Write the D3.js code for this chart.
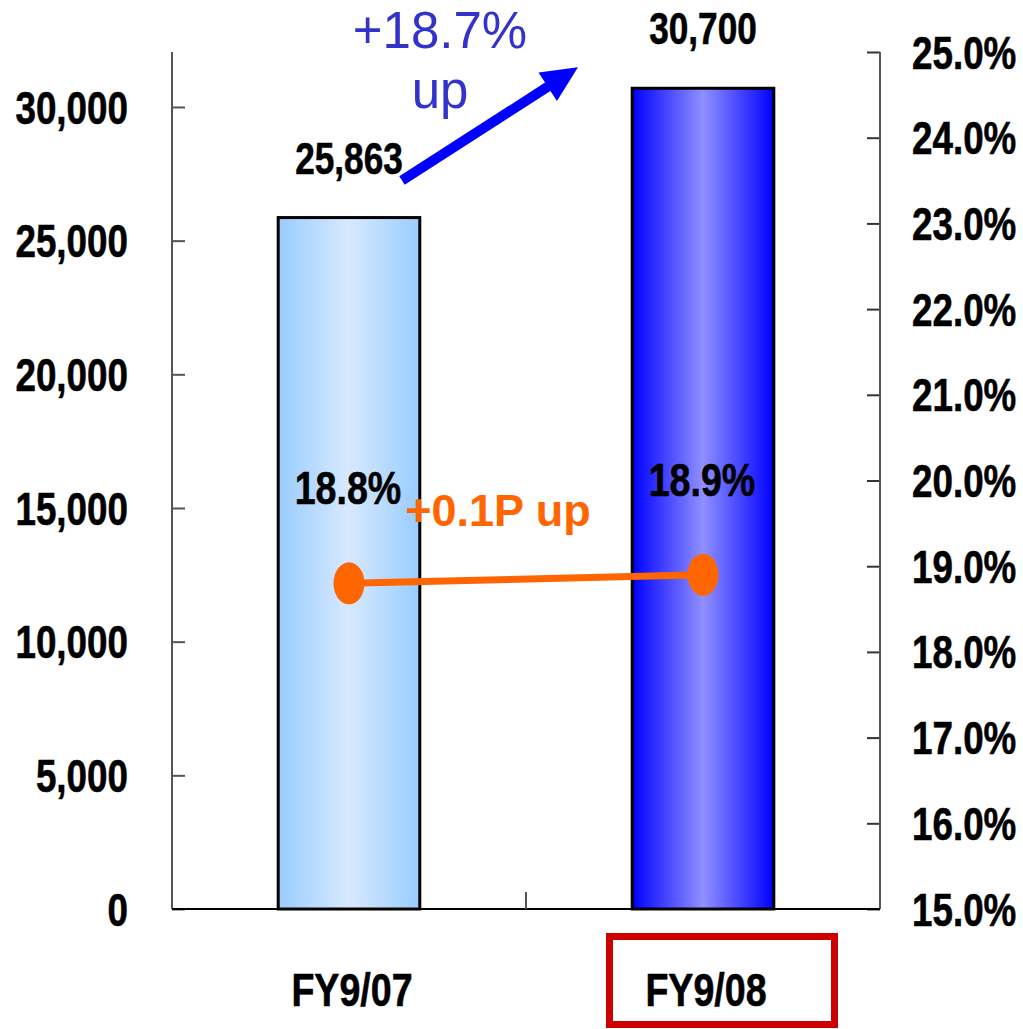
<!DOCTYPE html>
<html>
<head>
<meta charset="utf-8">
<script src="https://cdn.jsdelivr.net/npm/d3@7"></script>
<style>
  html, body { margin: 0; padding: 0; background: #fff; }
  svg { display: block; }
  .narrow { font-family: "Liberation Sans", Arial, sans-serif; font-weight: bold; stroke: #000; stroke-width: 0.6px; }
</style>
</head>
<body>
<svg id="chart" width="1023" height="1029"></svg>
<script>
// Fiscal years, sales amounts and margin rates
const categories = ["FY9/07", "FY9/08"];
const salesValues = [25863, 30700];
const marginRates = [18.8, 18.9];
const salesTicks = [0, 5000, 10000, 15000, 20000, 25000, 30000];
const rateTicks = [15, 16, 17, 18, 19, 20, 21, 22, 23, 24, 25];
const salesGrowthLabel = ["+18.7%", "up"];
const rateGrowthLabel = "+0.1P up";

(function draw() {
const svg = d3.select("#chart");
const plotL = 172, plotR = 880, plotT = 52, plotB = 909;

const x = d3.scaleBand().domain(categories).range([plotL, plotR]).padding(0);
const yL = d3.scaleLinear().domain([0, 32000]).range([plotB, 53.5]);
const yR = d3.scaleLinear().domain([15, 25]).range([plotB, plotT]);
const cx = i => x(categories[i]) + x.bandwidth() / 2;
const barW = x.bandwidth() * 0.4;

// Bar gradients: darker edges, lighter middle
const defs = svg.append("defs");
function grad(id, edge, mid) {
  const g = defs.append("linearGradient").attr("id", id)
    .attr("x1", "0%").attr("x2", "100%").attr("y1", "0%").attr("y2", "0%");
  g.append("stop").attr("offset", "0%").attr("stop-color", edge);
  g.append("stop").attr("offset", "50%").attr("stop-color", mid);
  g.append("stop").attr("offset", "100%").attr("stop-color", edge);
}
grad("g0", "#99CCFF", "#D8E9FF");
grad("g1", "#0000FF", "#9090FF");

// Bars
svg.selectAll("rect.bar").data(salesValues).join("rect")
  .attr("class", "bar")
  .attr("x", (d, i) => cx(i) - barW / 2)
  .attr("width", barW)
  .attr("y", d => yL(d))
  .attr("height", d => plotB - yL(d))
  .attr("fill", (d, i) => `url(#g${i})`)
  .attr("stroke", "#000")
  .attr("stroke-width", 3);

// Left axis
const axL = svg.append("g").attr("transform", `translate(${plotL},0)`)
  .call(d3.axisRight(yL).tickValues(salesTicks).tickSize(13).tickFormat(""));
axL.select(".domain").remove();
axL.selectAll(".tick line").attr("stroke", "#555").attr("stroke-width", 2);
svg.append("line").attr("x1", plotL).attr("x2", plotL).attr("y1", plotT).attr("y2", plotB)
  .attr("stroke", "#555").attr("stroke-width", 2);
svg.selectAll("text.tl").data(salesTicks).join("text")
  .attr("class", "tl narrow")
  .attr("x", plotL - 44).attr("y", d => yL(d))
  .attr("dy", "0.36em")
  .attr("text-anchor", "end")
  .attr("font-size", 46)
  .text(d => d3.format(",")(d));

// Right axis
const axR = svg.append("g").attr("transform", `translate(${plotR},0)`)
  .call(d3.axisLeft(yR).tickValues(rateTicks).tickSize(13).tickFormat(""));
axR.select(".domain").remove();
axR.selectAll(".tick line").attr("stroke", "#333").attr("stroke-width", 2);
svg.append("line").attr("x1", plotR).attr("x2", plotR).attr("y1", plotT).attr("y2", plotB)
  .attr("stroke", "#555").attr("stroke-width", 2);
svg.selectAll("text.tr").data(rateTicks).join("text")
  .attr("class", "tr narrow")
  .attr("x", plotR + 32).attr("y", d => yR(d))
  .attr("dy", "0.36em")
  .attr("text-anchor", "start")
  .attr("font-size", 46)
  .text(d => d.toFixed(1) + "%");

// Bottom axis with category separators
svg.append("line").attr("x1", plotL).attr("x2", plotR).attr("y1", plotB).attr("y2", plotB)
  .attr("stroke", "#000").attr("stroke-width", 2);
svg.selectAll("line.sep").data(categories.slice(1)).join("line")
  .attr("class", "sep")
  .attr("x1", d => x(d)).attr("x2", d => x(d))
  .attr("y1", plotB).attr("y2", plotB - 17)
  .attr("stroke", "#555").attr("stroke-width", 2);

// Category labels
svg.selectAll("text.cat").data(categories).join("text")
  .attr("class", "cat narrow")
  .attr("x", (d, i) => cx(i) + 3)
  .attr("y", 1006)
  .attr("text-anchor", "middle")
  .attr("font-size", 47)
  .text(d => d);

// Highlight frame around the latest year
const last = categories.length - 1;
svg.append("rect")
  .attr("x", cx(last) - 93.5).attr("y", 936.5)
  .attr("width", 225).attr("height", 88)
  .attr("fill", "none").attr("stroke", "#CC0000").attr("stroke-width", 7);

// Bar value labels
svg.selectAll("text.val").data(salesValues).join("text")
  .attr("class", "val narrow")
  .attr("x", (d, i) => cx(i))
  .attr("y", d => yL(d) - 44)
  .attr("text-anchor", "middle")
  .attr("font-size", 44)
  .text(d => d3.format(",")(d));

// Margin rate line and markers
const line = d3.line().x((d, i) => cx(i)).y(d => yR(d));
svg.append("path").datum(marginRates)
  .attr("d", line).attr("fill", "none")
  .attr("stroke", "#FF6600").attr("stroke-width", 7);
svg.selectAll("ellipse.pt").data(marginRates).join("ellipse")
  .attr("class", "pt")
  .attr("cx", (d, i) => cx(i)).attr("cy", d => yR(d))
  .attr("rx", 15.5).attr("ry", 21)
  .attr("fill", "#FF6600");

// Rate labels
svg.selectAll("text.rate").data(marginRates).join("text")
  .attr("class", "rate narrow")
  .attr("x", (d, i) => cx(i) - 1)
  .attr("y", d => yR(d) - 79)
  .attr("text-anchor", "middle")
  .attr("font-size", 47)
  .text(d => d.toFixed(1) + "%");

// Condensed bold face: squeeze the regular bold glyphs horizontally
svg.selectAll("text.narrow").each(function () {
  const w = this.getComputedTextLength();
  d3.select(this).attr("textLength", w * 0.8).attr("lengthAdjust", "spacingAndGlyphs");
});

svg.append("text")
  .attr("x", (cx(0) + cx(1)) / 2 - 28).attr("y", 526)
  .attr("text-anchor", "middle")
  .attr("font-family", "'Liberation Sans', Arial, sans-serif")
  .attr("font-weight", "bold").attr("font-size", 45)
  .attr("fill", "#FF6600")
  .text(rateGrowthLabel);

// Sales growth arrow
const ax0 = cx(0) + 53, ay0 = yL(salesValues[0]) - 37;
const ax1 = cx(1) - 125, ay1 = yL(salesValues[1]) - 21;
const ang = Math.atan2(ay1 - ay0, ax1 - ax0);
const len = Math.hypot(ax1 - ax0, ay1 - ay0);
const headL = 36, headW = 34, shaftW = 10;
const pts = [
  [0, -shaftW / 2], [len - headL, -shaftW / 2], [len - headL, -headW / 2],
  [len, 0], [len - headL, headW / 2], [len - headL, shaftW / 2], [0, shaftW / 2]
].map(([u, v]) => [ax0 + u * Math.cos(ang) - v * Math.sin(ang), ay0 + u * Math.sin(ang) + v * Math.cos(ang)]);
svg.append("polygon").attr("points", pts.map(p => p.join(",")).join(" ")).attr("fill", "#0000FF");

svg.selectAll("text.grow").data(salesGrowthLabel).join("text")
  .attr("class", "grow")
  .attr("x", 440).attr("y", (d, i) => 48 + i * 60)
  .attr("text-anchor", "middle")
  .attr("font-family", "'Liberation Sans', Arial, sans-serif")
  .attr("font-size", 51)
  .attr("fill", "#3333CC")
  .text(d => d);
})();
</script>
</body>
</html>
